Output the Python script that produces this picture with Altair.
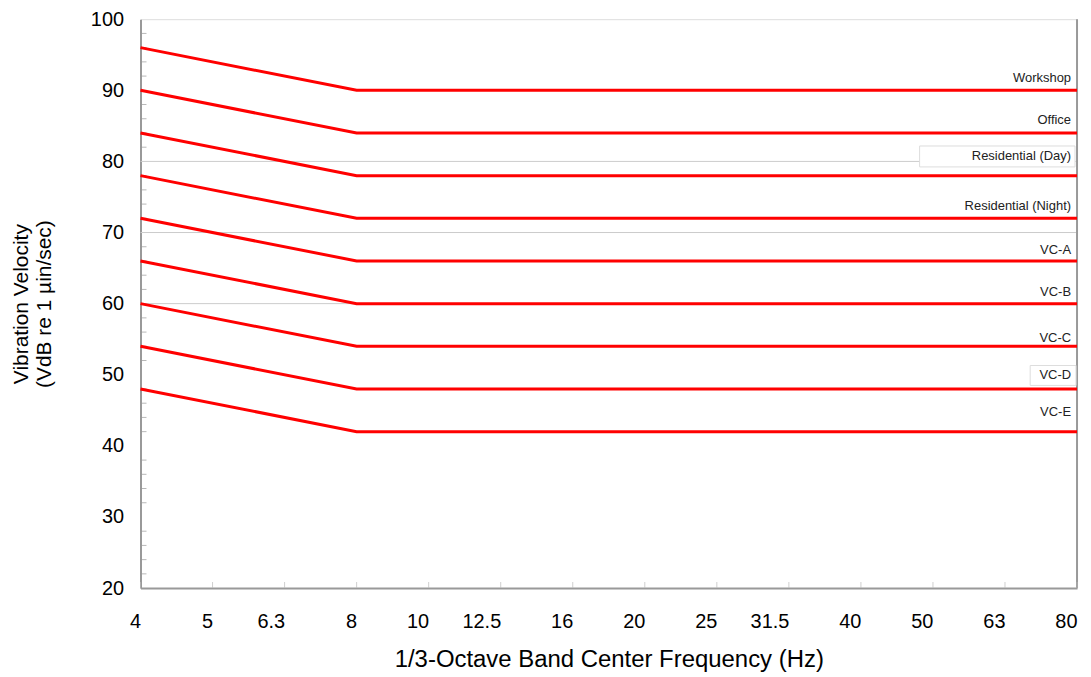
import altair as alt
import pandas as pd

freqs = ["4", "5", "6.3", "8", "10", "12.5", "16", "20", "25", "31.5", "40", "50", "63", "80"]
criteria = ["Workshop", "Office", "Residential (Day)", "Residential (Night)",
            "VC-A", "VC-B", "VC-C", "VC-D", "VC-E"]
level_4hz = [96, 90, 84, 78, 72, 66, 60, 54, 48]
level_8hz = [90, 84, 78, 72, 66, 60, 54, 48, 42]
level_80hz = [90, 84, 78, 72, 66, 60, 54, 48, 42]
label_level = [91.7, 85.8, 80.7, 73.7, 67.6, 61.6, 55.2, 49.9, 44.7]
boxed = ["Residential (Day)", "VC-D"]
grid_levels = [60, 70, 80]
minor_ticks = [v for v in range(22, 100, 2) if v % 10 != 0]

rows = []
for c, a, b, e in zip(criteria, level_4hz, level_8hz, level_80hz):
    rows.append({"crit": c, "f": "4", "v": a, "o": 0})
    rows.append({"crit": c, "f": "8", "v": b, "o": 1})
    rows.append({"crit": c, "f": "80", "v": e, "o": 2})
lines_df = pd.DataFrame(rows)
labels_df = pd.DataFrame({"crit": criteria, "f": ["80"] * len(criteria), "v": label_level})
grid_df = pd.DataFrame({"v": grid_levels})
ytick_df = pd.DataFrame({"v": minor_ticks, "f": ["4"] * len(minor_ticks)})
xtick_df = pd.DataFrame({"f": freqs, "v": [20] * len(freqs)})
edge_df = pd.DataFrame({"f": ["80"], "v": [20], "v2": [100]})
box_day = labels_df[labels_df["crit"] == boxed[0]]
box_vcd = labels_df[labels_df["crit"] == boxed[1]]

FONT = "Liberation Sans"
xscale = alt.Scale(domain=freqs, type="point", padding=0)
yscale = alt.Scale(domain=[20, 100], nice=False)

xenc = alt.X("f:N", scale=xscale, sort=freqs,
             axis=alt.Axis(title="1/3-Octave Band Center Frequency (Hz)", labelAngle=0,
                           ticks=False, grid=False, domainColor="#999999", domainWidth=2,
                           labelFontSize=20, labelColor="#000000", labelPadding=34,
                           titleFontSize=24, titleFontWeight="normal", titleColor="#000000",
                           titlePadding=16, labelFont=FONT, titleFont=FONT))
yenc = alt.Y("v:Q", scale=yscale,
             axis=alt.Axis(title=["Vibration Velocity", "(VdB re 1 \u00b5in/sec)"],
                           values=list(range(20, 101, 10)), ticks=False, grid=False,
                           domainColor="#999999", domainWidth=2,
                           labelFontSize=20, labelColor="#000000", labelPadding=17,
                           titleFontSize=21, titleFontWeight="normal", titleColor="#000000",
                           titlePadding=36, labelFont=FONT, titleFont=FONT))

grid = alt.Chart(grid_df).mark_rule(color="#cccccc", strokeWidth=1).encode(
    y=alt.Y("v:Q", scale=yscale))

edge = alt.Chart(edge_df).mark_rule(color="#999999", strokeWidth=2).encode(
    x=alt.X("f:N", scale=xscale), y=alt.Y("v:Q", scale=yscale), y2="v2:Q")

yticks = alt.Chart(ytick_df).mark_tick(orient="horizontal", size=6, thickness=1,
                                        color="#999999", xOffset=3).encode(
    x=alt.X("f:N", scale=xscale), y=alt.Y("v:Q", scale=yscale))

xticks = alt.Chart(xtick_df).mark_tick(orient="vertical", size=6, thickness=1,
                                        color="#bbbbbb", yOffset=-3).encode(
    x=alt.X("f:N", scale=xscale), y=alt.Y("v:Q", scale=yscale))

box1 = alt.Chart(box_day).mark_rect(width=156, height=21, xOffset=-80, fill="#ffffff",
                                     stroke="#dddddd", strokeWidth=1).encode(
    x=alt.X("f:N", scale=xscale), y=alt.Y("v:Q", scale=yscale))
box2 = alt.Chart(box_vcd).mark_rect(width=46, height=20, xOffset=-24, fill="#ffffff",
                                     stroke="#dddddd", strokeWidth=1).encode(
    x=alt.X("f:N", scale=xscale), y=alt.Y("v:Q", scale=yscale))

lines = alt.Chart(lines_df).mark_line(color="#ff0000", strokeWidth=3).encode(
    x=xenc, y=yenc, detail="crit:N", order="o:Q")

labels = alt.Chart(labels_df).mark_text(align="right", baseline="middle", dx=-6,
                                        fontSize=13, font=FONT, color="#222222").encode(
    x=alt.X("f:N", scale=xscale), y=alt.Y("v:Q", scale=yscale), text="crit:N")

chart = alt.layer(grid, edge, yticks, xticks, box1, box2, lines, labels).properties(
    width=940, height=571,
    padding={"left": 2, "top": 0, "right": 0, "bottom": 0},
).configure_view(stroke=None).configure(background="#ffffff")

chart.save("out.html", embed_options={"renderer": "svg", "actions": False})
